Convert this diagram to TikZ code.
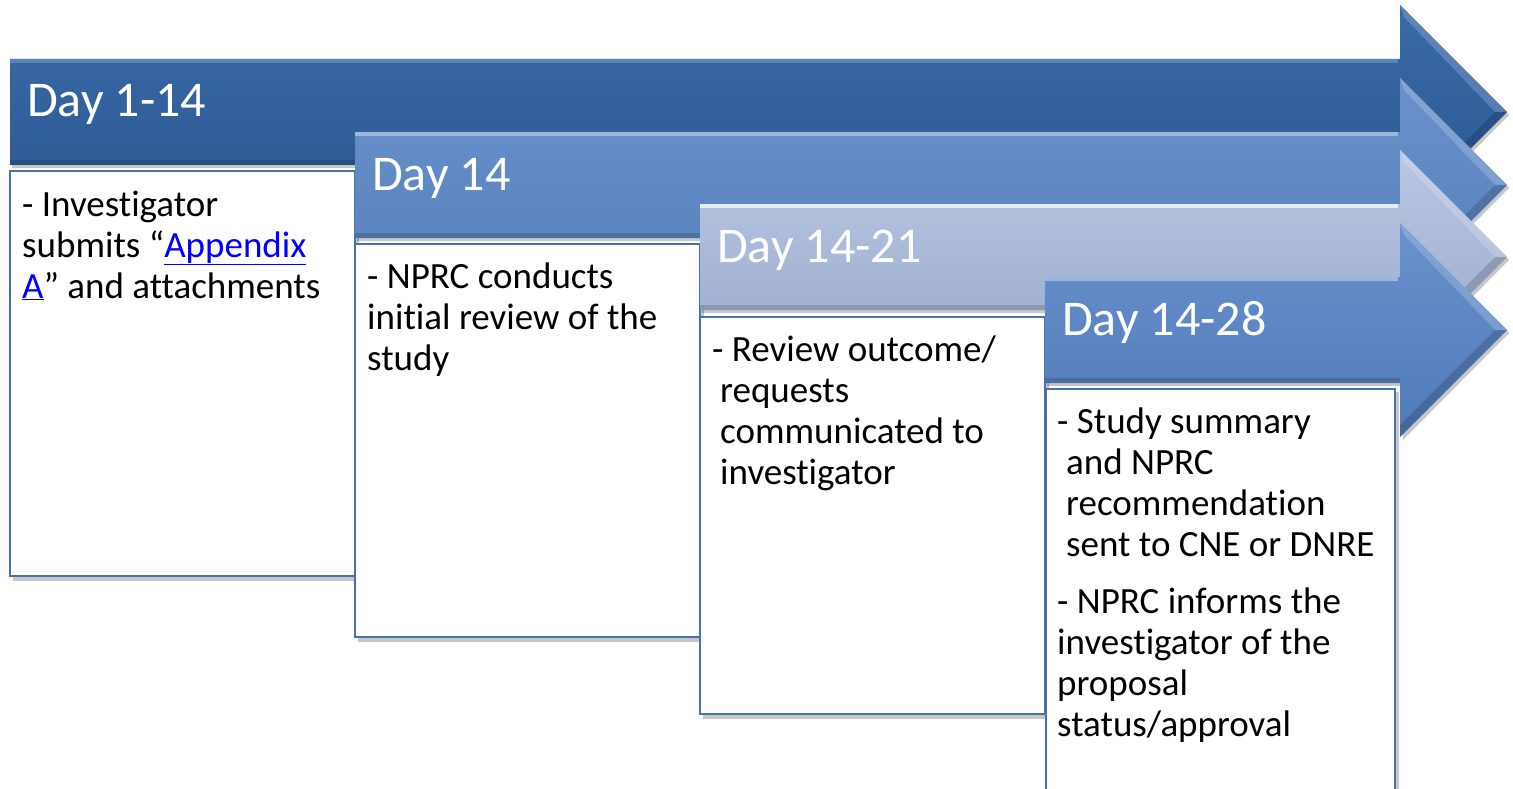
\documentclass[tikz,border=0pt]{standalone}
\usepackage{fontspec}
\setmainfont{Carlito}[Ligatures=NoCommon]
\usetikzlibrary{calc}
\definecolor{aOneTop}{HTML}{3A6BA8}
\definecolor{aOneBot}{HTML}{2A5690}
\definecolor{aTwoTop}{HTML}{6A92CC}
\definecolor{aTwoBot}{HTML}{5680BC}
\definecolor{aThreeTop}{HTML}{B8C7E3}
\definecolor{aThreeBot}{HTML}{9AAACB}
\definecolor{aFourTop}{HTML}{6A92CE}
\definecolor{aFourBot}{HTML}{5079B8}
\definecolor{boxline}{HTML}{4A72AA}
\definecolor{linkblue}{HTML}{0000FF}
\newcommand{\dayarrow}[5]{%
  % #1 left x, #2 center y, #3 top colour, #4 bottom colour, #5 highlight colour
  \fill[black,opacity=0.22] ($(#1,#2)+(2,-50)$) -- (1403,#2-50) -- (1403,#2-104) -- (1509,#2+3) -- (1403,#2+110) -- (1403,#2+56) -- ($(#1,#2)+(2,56)$) -- cycle;
  \shade[top color=#3,bottom color=#4] (#1,#2-53) -- (1400,#2-53) -- (1400,#2-107) -- (1507,#2) -- (1400,#2+107) -- (1400,#2+53) -- (#1,#2+53) -- cycle;
  \fill[#5,opacity=0.7] (#1,#2-53) rectangle (1398,#2-49);
  \fill[black,opacity=0.15] (#1,#2+48) rectangle (1400,#2+53);
  \fill[white,opacity=0.18] (1400,#2-107) -- (1507,#2) -- (1495,#2) -- (1404,#2-95) -- cycle;
  \fill[black,opacity=0.15] (1507,#2) -- (1400,#2+107) -- (1400,#2+95) -- (1495,#2) -- cycle;
}
\tikzset{
  dayhead/.style={anchor=base west,inner sep=0pt,text=white,font=\fontsize{50}{60}\selectfont},
  bodytext/.style={anchor=base west,inner sep=0pt,text=black,font=\fontsize{37}{41}\selectfont},
  stepbox/.style={draw=boxline,line width=2pt,fill=white},
  boxshadow/.style={fill=black,opacity=0.22}
}
\begin{document}
\begin{tikzpicture}[x=1pt,y=-1pt]
\useasboundingbox (0,0) rectangle (1513,789);
\clip (0,0) rectangle (1513,789);
\fill[white] (0,0) rectangle (1513,789);

% Arrow 1
\dayarrow{10}{112}{aOneTop}{aOneBot}{aTwoTop}
\node[dayhead] (h1) at (27,117) {Day 1-14};
\fill[boxshadow] (13,174) rectangle (359,581);
\draw[stepbox] (10,171) rectangle (355,576);
\node[bodytext] (t1) at (22,216) {\parbox[t]{330pt}{\raggedright
- Investigator\\
submits “{\color{linkblue}\underline{Appendix}}\\
{\color{linkblue}\underline{A}}” and attachments}};

% Arrow 2
\dayarrow{355}{185}{aTwoTop}{aTwoBot}{aThreeTop}
\node[dayhead] (h2) at (372,190) {Day 14};
\fill[boxshadow] (358,247) rectangle (704,642);
\draw[stepbox] (355,244) rectangle (700,637);
\node[bodytext] (t2) at (367,288) {\parbox[t]{330pt}{\raggedright
- NPRC conducts\\
initial review of the\\
study}};

% Arrow 3
\dayarrow{700}{257}{aThreeTop}{aThreeBot}{white}
\node[dayhead] (h3) at (717,262) {Day 14-21};
\fill[boxshadow] (703,320) rectangle (1049,719);
\draw[stepbox] (700,317) rectangle (1045,714);
\node[bodytext] (t3) at (712,361) {\parbox[t]{330pt}{\raggedright
- Review outcome/\\
\hspace*{8pt}requests\\
\hspace*{8pt}communicated to\\
\hspace*{8pt}investigator}};

% Arrow 4
\dayarrow{1045}{330}{aFourTop}{aFourBot}{aThreeTop}
\node[dayhead] (h4) at (1062,335) {Day 14-28};
\fill[boxshadow] (1049,392) rectangle (1399,800);
\draw[stepbox] (1046,389) rectangle (1395,800);
\node[bodytext] (t4) at (1057,433) {\parbox[t]{335pt}{\raggedright
- Study summary\\
\hspace*{9pt}and NPRC\\
\hspace*{9pt}recommendation\\
\hspace*{9pt}sent to CNE or DNRE\\[16pt]
- NPRC informs the\\
investigator of the\\
proposal\\
status/approval}};
\end{tikzpicture}
\end{document}
